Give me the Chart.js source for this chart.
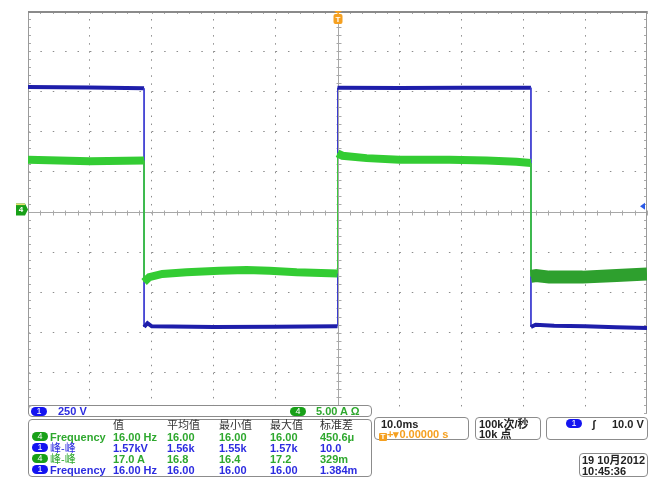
<!DOCTYPE html>
<html>
<head>
<meta charset="utf-8">
<script src="https://cdn.jsdelivr.net/npm/chart.js@4.4.0/dist/chart.umd.min.js"></script>
<style>
  html, body { margin: 0; padding: 0; background: #fff; }
  #wrap { position: relative; width: 661px; height: 492px; overflow: hidden;
    font-family: "Liberation Sans", "Noto Sans CJK SC", sans-serif; font-size: 11px; font-weight: bold; }
  #scope { position: absolute; left: 0; top: 0; }
  .box { position: absolute; box-sizing: border-box; border: 1px solid #8c8c8c; border-radius: 4px; background: #fff; }
  .t { position: absolute; white-space: nowrap; line-height: 12px; }
  .cjk { font-weight: normal; }
  .pill { position: absolute; width: 16px; height: 9px; border-radius: 5px; color: #fff;
    font-size: 9px; line-height: 9px; text-align: center; font-weight: normal; }
</style>
</head>
<body>
<div id="wrap">
  <canvas id="scope" width="661" height="492"></canvas>
</div>
<script>
// 10 ms/div, 10 divisions, trigger at t = 0
const timeRange = [-50, 50];
const ch1VoltsPerDiv = 250;
const ch1CenterVolts = -25;   // ch1 ground sits a little above screen centre
const ch4AmpsPerDiv = 5;
const ch4CenterAmps = -0.3;
const triggerLevelVolts = 10;

// channel 1 (blue), volts
const ch1Time  = [-50, -40, -31.25, -31.25, -30.7, -30, -20, -10, 0, 0, 10, 20, 31.25, 31.25, 32, 35, 40, 45, 50];
const ch1Volts = [752, 750, 744, -740, -716, -736, -740, -738, -736, 748, 746, 748, 748, -740, -726, -732, -736, -742, -746];

// channel 4 (green), amps
const ch4Time = [-50, -40, -31.25, -31.25, -30.4, -28.3, -24.4, -19.1, -14.7, -11, -6.6, 0,
                 0, 0.8, 4.7, 10, 18.1, 24.1, 28.9, 31.25, 31.25, 32.1, 34.2, 39.6, 45.1, 50];
const ch4Amps = [6.2, 6.0, 6.1, -9.0, -8.4, -8.0, -7.8, -7.6, -7.5, -7.6, -7.8, -7.95,
                 7.0, 6.7, 6.4, 6.2, 6.2, 6.1, 5.95, 5.8, -8.3, -8.2, -8.4, -8.4, -8.2, -8.0];

const statHeaders = ["值", "平均值", "最小值", "最大值", "标准差"];
const statRows = [
  { ch: 4, name: "Frequency", vals: ["16.00 Hz", "16.00", "16.00", "16.00", "450.6μ"] },
  { ch: 1, name: "峰-峰", vals: ["1.57kV", "1.56k", "1.55k", "1.57k", "10.0"] },
  { ch: 4, name: "峰-峰", vals: ["17.0 A", "16.8", "16.4", "17.2", "329m"] },
  { ch: 1, name: "Frequency", vals: ["16.00 Hz", "16.00", "16.00", "16.00", "1.384m"] },
];

const BLUE = "#1e1eaa";
const GREEN = "#33cc33";
const TXT_BLUE = "#2c2ce0";
const TXT_GREEN = "#2ea82e";
const PILL_BLUE = "#1414f0";
const PILL_GREEN = "#18a018";
const ORANGE = "#f5a020";
const GRID = "#8c8c8c";

const vertical = (s) => s.p0.parsed.x === s.p1.parsed.x;

const scopeFrame = {
  id: "scopeFrame",
  beforeDatasetsDraw(chart) {
    const { ctx, chartArea: a, scales } = chart;
    const x = scales.x, y = scales.y;
    const cx = Math.round(x.getPixelForValue(0)) + 0.5;
    const cy = Math.round(y.getPixelForValue(0)) + 0.5;
    ctx.save();
    ctx.strokeStyle = "#a8a8a8";
    ctx.lineWidth = 1;
    ctx.beginPath();
    ctx.moveTo(a.left, cy); ctx.lineTo(a.right, cy);
    ctx.moveTo(cx, a.top); ctx.lineTo(cx, a.bottom);
    for (let t = timeRange[0]; t <= timeRange[1]; t += 2) {
      const px = Math.round(x.getPixelForValue(t)) + 0.5;
      ctx.moveTo(px, cy - 2); ctx.lineTo(px, cy + 3);
      ctx.moveTo(px, a.top); ctx.lineTo(px, a.top + 3);
    }
    for (let d = -25; d <= 25; d += 1) {
      const py = Math.round(y.getPixelForValue(d / 5)) + 0.5;
      ctx.moveTo(cx - 2, py); ctx.lineTo(cx + 3, py);
      ctx.moveTo(a.left, py); ctx.lineTo(a.left + 3, py);
      ctx.moveTo(a.right - 3, py); ctx.lineTo(a.right, py);
    }
    ctx.stroke();
    // outer frame
    ctx.strokeStyle = "#9a9a9a";
    ctx.beginPath();
    ctx.moveTo(a.left + 0.5, a.bottom); ctx.lineTo(a.left + 0.5, a.top);
    ctx.moveTo(a.right - 0.5, a.top); ctx.lineTo(a.right - 0.5, a.bottom);
    ctx.stroke();
    ctx.lineWidth = 2;
    ctx.strokeStyle = "#8a8a8a";
    ctx.beginPath();
    ctx.moveTo(a.left, a.top + 1); ctx.lineTo(a.right, a.top + 1);
    ctx.stroke();
    ctx.restore();
  },
  afterDatasetsDraw(chart) {
    const { ctx, chartArea: a, scales } = chart;
    ctx.save();
    // trigger position marker
    const tx = Math.round(scales.x.getPixelForValue(0));
    ctx.fillStyle = ORANGE;
    ctx.beginPath();
    ctx.moveTo(tx - 4, a.top); ctx.lineTo(tx + 4, a.top); ctx.lineTo(tx, a.top + 3); ctx.closePath();
    ctx.fill();
    ctx.beginPath();
    ctx.roundRect(tx - 4.5, a.top + 3, 9, 10, 2);
    ctx.fill();
    ctx.fillStyle = "#fff";
    ctx.font = "bold 8px 'Liberation Sans'";
    ctx.textAlign = "center";
    ctx.textBaseline = "middle";
    ctx.fillText("T", tx, a.top + 8.5);

    // channel 4 ground marker
    const gy = scales.yA.getPixelForValue(0);
    ctx.fillStyle = PILL_GREEN;
    ctx.beginPath();
    ctx.moveTo(16, gy - 6); ctx.lineTo(25, gy - 6); ctx.lineTo(28, gy); ctx.lineTo(25, gy + 6); ctx.lineTo(16, gy + 6);
    ctx.closePath();
    ctx.fill();
    ctx.fillStyle = "#e8e070";
    ctx.fillRect(16, gy - 6, 9, 1.5);
    ctx.fillStyle = "#fff";
    ctx.fillText("4", 21, gy + 0.5);

    // trigger level marker
    const ly = scales.yV.getPixelForValue(triggerLevelVolts);
    ctx.fillStyle = "#2a5ae8";
    ctx.beginPath();
    ctx.moveTo(a.right - 7, ly); ctx.lineTo(a.right - 2, ly - 3.5); ctx.lineTo(a.right - 2, ly + 3.5);
    ctx.closePath();
    ctx.fill();
    ctx.restore();
  },
};

const hide = (edges) => (c) => edges.includes(c.tick.value) ? "rgba(0,0,0,0)" : GRID;

new Chart(document.getElementById("scope"), {
  type: "line",
  data: {
    datasets: [
      {
        label: "4",
        data: ch4Time.map((t, i) => ({ x: t, y: ch4Amps[i] })),
        yAxisID: "yA",
        borderColor: GREEN,
        borderWidth: 8,
        pointRadius: 0,
        order: 0,
        segment: {
          borderWidth: (s) => vertical(s) ? 1 : (s.p0.parsed.x >= 31.25 ? 13 : undefined),
          borderColor: (s) => vertical(s) ? "#3cc83c" : (s.p0.parsed.x >= 31.25 ? "#2ea02e" : undefined),
        },
      },
      {
        label: "1",
        data: ch1Time.map((t, i) => ({ x: t, y: ch1Volts[i] })),
        yAxisID: "yV",
        borderColor: BLUE,
        borderWidth: 4,
        pointRadius: 0,
        order: 1,
        segment: {
          borderWidth: (s) => vertical(s) ? 1 : undefined,
          borderColor: (s) => vertical(s) ? "#3a3ad0" : undefined,
        },
      },
    ],
  },
  options: {
    responsive: false,
    animation: false,
    events: [],
    layout: { padding: { left: 28, right: 14, top: 11, bottom: 79 } },
    plugins: { legend: { display: false }, tooltip: { enabled: false } },
    scales: {
      x: {
        type: "linear", min: timeRange[0], max: timeRange[1],
        ticks: { display: false, stepSize: 10 },
        grid: { color: hide([-50, 0, 50]), lineWidth: 1, drawTicks: false },
        border: { display: false, dash: [1.5, 6.54] },
        afterFit: (s) => { s.height = 0; },
      },
      y: {
        type: "linear", min: -5, max: 5,
        ticks: { display: false, stepSize: 1 },
        grid: { color: hide([-5, 0, 5]), lineWidth: 1, drawTicks: false },
        border: { display: false, dash: [1.5, 10.88] },
        afterFit: (s) => { s.width = 0; },
      },
      yV: { display: false, min: ch1CenterVolts - 5 * ch1VoltsPerDiv, max: ch1CenterVolts + 5 * ch1VoltsPerDiv },
      yA: { display: false, min: ch4CenterAmps - 5 * ch4AmpsPerDiv, max: ch4CenterAmps + 5 * ch4AmpsPerDiv },
    },
  },
  plugins: [scopeFrame],
});

// status panel under the screen
const wrap = document.getElementById("wrap");
function addBox(x, y, w, h) {
  const el = document.createElement("div");
  el.className = "box";
  Object.assign(el.style, { left: x + "px", top: y + "px", width: w + "px", height: h + "px" });
  wrap.appendChild(el);
}
function addText(x, cy, text, color, cls) {
  const el = document.createElement("div");
  el.className = "t" + (cls ? " " + cls : "");
  el.textContent = text;
  Object.assign(el.style, { left: x + "px", top: (cy - 6) + "px", color: color || "#222" });
  wrap.appendChild(el);
  return el;
}
function addPill(x, cy, label, color) {
  const el = document.createElement("div");
  el.className = "pill";
  el.textContent = label;
  Object.assign(el.style, { left: x + "px", top: (cy - 4.5) + "px", background: color });
  wrap.appendChild(el);
}

addBox(28, 405, 344, 12);
addPill(31, 411, "1", PILL_BLUE);
addText(58, 411, "250 V", TXT_BLUE);
addPill(290, 411, "4", PILL_GREEN);
addText(316, 411, "5.00 A Ω", TXT_GREEN);

addBox(28, 419, 344, 58);
const colX = [113, 167, 219, 270, 320];
const rowY = [436.5, 447.5, 458.5, 469.5];
statHeaders.forEach((h, i) => addText(colX[i], 425, h, "#333", "cjk"));
statRows.forEach((row, r) => {
  const color = row.ch === 4 ? TXT_GREEN : TXT_BLUE;
  addPill(32, rowY[r], String(row.ch), row.ch === 4 ? PILL_GREEN : PILL_BLUE);
  addText(50, rowY[r], row.name, color, /[^\x00-\x7f]/.test(row.name) ? "cjk" : "");
  row.vals.forEach((v, i) => addText(colX[i], rowY[r], v, color));
});

addBox(374, 417, 95, 23);
addText(381, 423.5, "10.0ms");
const trig = addText(379, 434, "", ORANGE);
trig.innerHTML = '<span style="display:inline-block;width:8px;height:8px;background:' + ORANGE +
  ';color:#fff;font-size:8px;line-height:8px;text-align:center;border-radius:1px;vertical-align:-1px">T</span>+▾0.00000 s';

addBox(475, 417, 66, 23);
addText(479, 423.5, "100k次/秒");
addText(479, 434, "10k 点");

addBox(546, 417, 102, 23);
addPill(566, 423.5, "1", PILL_BLUE);
addText(592, 423.5, "ʃ", "#222");
addText(612, 423.5, "10.0 V");

addBox(579, 453, 69, 24);
addText(582, 459.5, "19 10月2012");
addText(582, 470.5, "10:45:36");
</script>
</body>
</html>
